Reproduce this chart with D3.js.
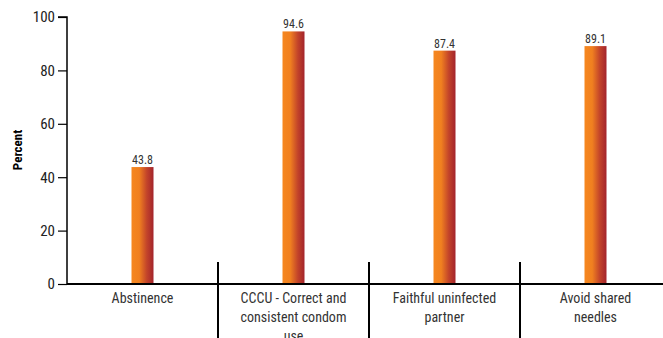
<!DOCTYPE html>
<html><head><meta charset="utf-8">
<script src="https://cdn.jsdelivr.net/npm/d3@7"></script>
<style>
body{margin:0;background:#fff;}
svg{display:block;}
text{font-family:"Liberation Sans Narrow","Arial Narrow","Roboto Condensed",sans-serif;}
</style></head><body>
<svg id="chart" width="663" height="338"></svg>
<script>
const categories = ["Abstinence", "CCCU - Correct and consistent condom use", "Faithful uninfected partner", "Avoid shared needles"];
const categoryLines = [["Abstinence"], ["CCCU - Correct and", "consistent condom", "use"], ["Faithful uninfected", "partner"], ["Avoid shared", "needles"]];
const values = [43.8, 94.6, 87.4, 89.1];
const yTicks = [0, 20, 40, 60, 80, 100];
const yLabel = "Percent";

const svg = d3.select("#chart");
const x0 = 67, plotW = 604, yTop = 17, yBot = 284;
const x = d3.scaleBand().domain(categories).range([x0, x0 + plotW]);
const y = d3.scaleLinear().domain([0, 100]).range([yBot, yTop]);

const defs = svg.append("defs");
const g = defs.append("linearGradient").attr("id", "barGrad").attr("x1", "0%").attr("x2", "100%");
g.append("stop").attr("offset", "0%").attr("stop-color", "#f6871f");
g.append("stop").attr("offset", "35%").attr("stop-color", "#f08020");
g.append("stop").attr("offset", "70%").attr("stop-color", "#c2432a");
g.append("stop").attr("offset", "100%").attr("stop-color", "#a3242c");

const barW = 22;
svg.selectAll("rect.bar").data(values).join("rect")
  .attr("class", "bar")
  .attr("x", (d, i) => x(categories[i]) + x.bandwidth() / 2 - barW / 2)
  .attr("width", barW)
  .attr("y", d => y(d))
  .attr("height", d => y(0) - y(d))
  .attr("fill", "url(#barGrad)");

svg.selectAll("text.val").data(values).join("text")
  .attr("class", "val")
  .attr("x", (d, i) => x(categories[i]) + x.bandwidth() / 2)
  .attr("y", d => y(d) - 3)
  .attr("text-anchor", "middle")
  .attr("font-size", 12)
  .attr("fill", "#333")
  .text(d => d.toFixed(1));

// y axis
const yAxis = d3.axisLeft(y).tickValues(yTicks).tickSize(9).tickPadding(3);
const ya = svg.append("g").attr("transform", `translate(${x0},0)`).call(yAxis);
ya.select(".domain").attr("stroke", "#000").attr("stroke-width", 1.5).attr("d", `M-9,${yTop}H0V${yBot}`);
ya.selectAll(".tick line").attr("stroke", "#000").attr("stroke-width", 1.2);
ya.selectAll(".tick text").attr("font-size", 15).attr("fill", "#222")
  .attr("font-family", '"Liberation Sans Narrow","Arial Narrow",sans-serif');

// baseline
svg.append("line").attr("x1", x0).attr("x2", 663).attr("y1", y(0)).attr("y2", y(0))
  .attr("stroke", "#000").attr("stroke-width", 2);

// separators
categories.slice(1).forEach(c => {
  svg.append("line").attr("x1", x(c)).attr("x2", x(c)).attr("y1", 262).attr("y2", 338)
    .attr("stroke", "#000").attr("stroke-width", 2);
});

// category labels
categories.forEach((c, i) => {
  const t = svg.append("text").attr("text-anchor", "middle").attr("font-size", 14).attr("fill", "#333");
  categoryLines[i].forEach((ln, j) => {
    t.append("tspan").attr("x", x(c) + x.bandwidth() / 2).attr("y", 303 + j * 19).text(ln);
  });
});

svg.append("text")
  .attr("transform", "translate(22,150) rotate(-90)")
  .attr("text-anchor", "middle")
  .attr("font-size", 13)
  .attr("font-weight", "bold")
  .attr("fill", "#000")
  .text(yLabel);
</script>
</body></html>
